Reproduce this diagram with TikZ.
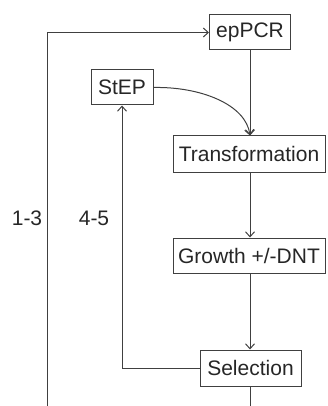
\documentclass[tikz,border=0pt]{standalone}
\usepackage{fontspec}
\setmainfont{Liberation Sans}
\usetikzlibrary{arrows.meta}
\begin{document}
\begin{tikzpicture}[x=1pt,y=-1pt,line width=1pt,draw=black!75,
  box/.style={draw=black!75,line width=1pt,inner sep=0pt,text=black!85,font=\fontsize{21}{24}\selectfont},
  lbl/.style={inner sep=0pt,text=black!85,font=\fontsize{21}{24}\selectfont},
  flow/.style={-{Straight Barb[length=5pt,width=9pt]},draw=black!75}]
\useasboundingbox (0,0) rectangle (328,406);
\node[box,minimum width=81pt,minimum height=35pt] (ep) at (250,32.5) {epPCR};
\node[box,minimum width=62pt,minimum height=35pt] (st) at (122,87.5) {StEP};
\node[box,minimum width=152pt,minimum height=36pt] (tr) at (249,154) {Transformation};
\node[box,minimum width=152pt,minimum height=35pt] (gr) at (249,255.5) {Growth +/-DNT};
\node[box,minimum width=101pt,minimum height=36pt] (se) at (250.5,368) {Selection};
\node[lbl] (l13) at (27,218) {1-3};
\node[lbl] (l45) at (94,218) {4-5};
\coordinate (bl) at (47,406);
\coordinate (bs) at (250,406);
\draw[flow] (ep.south -| 250,0) -- (tr.north -| 250,0);
\draw[flow] (tr.south -| 250,0) -- (gr.north -| 250,0);
\draw[flow] (gr.south -| 250,0) -- (se.north -| 250,0);
\draw (se.south -| 250,0) -- (bs);
\draw[flow] (se.west) -| (st.south);
\draw[flow] (bl) |- (ep.west);
\draw[flow] (st.east) .. controls +(47,-1) and +(-4,-31) .. (tr.north -| 250,0);
\end{tikzpicture}
\end{document}
